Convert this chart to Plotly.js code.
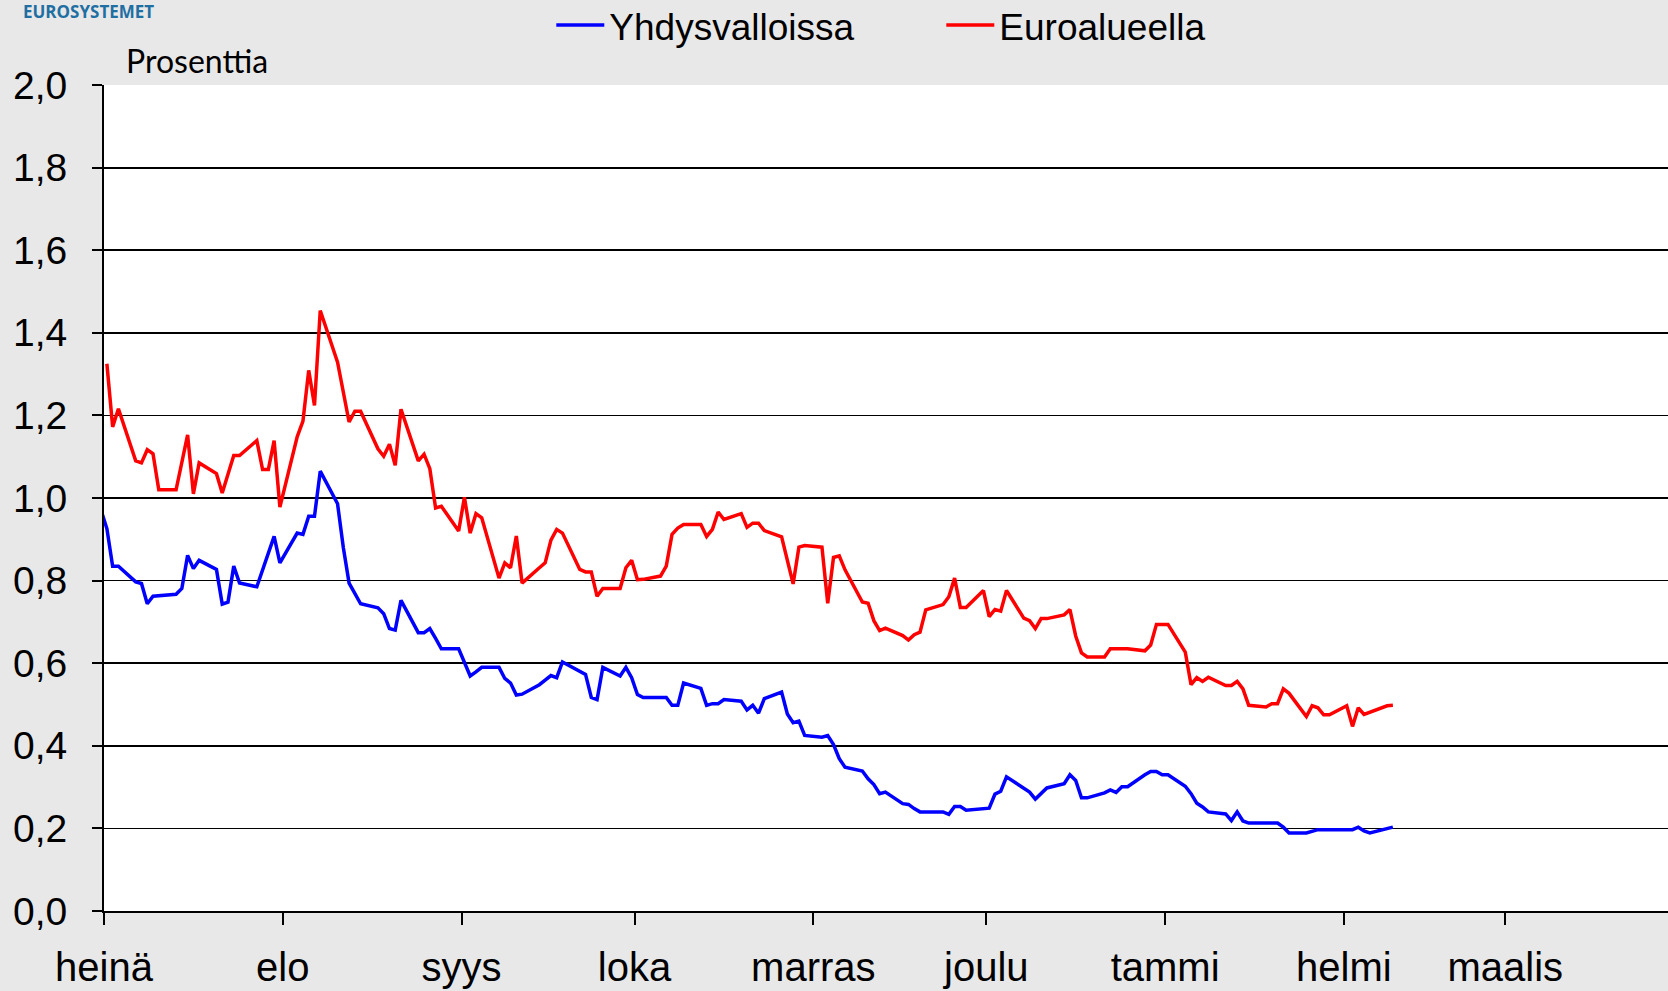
<!DOCTYPE html>
<html>
<head>
<meta charset="utf-8">
<script src="https://cdn.plot.ly/plotly-3.0.1.min.js"></script>
<style>
  html, body { margin: 0; padding: 0; background: #e8e8e8; }
  #chart { width: 1668px; height: 991px; }
</style>
</head>
<body>
<div id="chart"></div>
<script>
// Month ticks (Finnish month names)
const monthTicks = ['2009-07-01', '2009-08-01', '2009-09-01', '2009-10-01', '2009-11-01',
                    '2009-12-01', '2010-01-01', '2010-02-01', '2010-03-01'];
const monthLabels = ['heinä', 'elo', 'syys', 'loka', 'marras', 'joulu', 'tammi', 'helmi', 'maalis'];

// Yhdysvalloissa (blue)
const usDates = [
  '2009-06-30', '2009-07-01', '2009-07-02', '2009-07-03', '2009-07-06', '2009-07-07', '2009-07-08', '2009-07-09',
  '2009-07-13', '2009-07-14', '2009-07-15', '2009-07-16', '2009-07-17', '2009-07-20', '2009-07-21', '2009-07-22',
  '2009-07-23', '2009-07-24', '2009-07-27', '2009-07-30', '2009-07-31', '2009-08-03', '2009-08-04', '2009-08-05',
  '2009-08-06', '2009-08-07', '2009-08-10', '2009-08-11', '2009-08-12', '2009-08-13', '2009-08-14', '2009-08-17',
  '2009-08-18', '2009-08-19', '2009-08-20', '2009-08-21', '2009-08-24', '2009-08-25', '2009-08-26', '2009-08-27',
  '2009-08-28', '2009-08-31', '2009-09-01', '2009-09-02', '2009-09-03', '2009-09-04', '2009-09-07', '2009-09-08',
  '2009-09-09', '2009-09-10', '2009-09-11', '2009-09-14', '2009-09-15', '2009-09-16', '2009-09-17', '2009-09-18',
  '2009-09-22', '2009-09-23', '2009-09-24', '2009-09-25', '2009-09-28', '2009-09-29', '2009-09-30', '2009-10-01',
  '2009-10-02', '2009-10-06', '2009-10-07', '2009-10-08', '2009-10-09', '2009-10-12', '2009-10-13', '2009-10-14',
  '2009-10-15', '2009-10-16', '2009-10-19', '2009-10-20', '2009-10-21', '2009-10-22', '2009-10-23', '2009-10-26',
  '2009-10-27', '2009-10-28', '2009-10-29', '2009-10-30', '2009-11-02', '2009-11-03', '2009-11-04', '2009-11-05',
  '2009-11-06', '2009-11-09', '2009-11-10', '2009-11-11', '2009-11-12', '2009-11-13', '2009-11-16', '2009-11-17',
  '2009-11-18', '2009-11-19', '2009-11-23', '2009-11-24', '2009-11-25', '2009-11-26', '2009-11-27', '2009-11-30',
  '2009-12-01', '2009-12-02', '2009-12-03', '2009-12-04', '2009-12-07', '2009-12-08', '2009-12-09', '2009-12-10',
  '2009-12-11', '2009-12-14', '2009-12-15', '2009-12-16', '2009-12-17', '2009-12-18', '2009-12-21', '2009-12-22',
  '2009-12-23', '2009-12-24', '2009-12-25', '2009-12-28', '2009-12-29', '2009-12-30', '2009-12-31', '2010-01-01',
  '2010-01-04', '2010-01-05', '2010-01-06', '2010-01-07', '2010-01-08', '2010-01-11', '2010-01-12', '2010-01-13',
  '2010-01-14', '2010-01-15', '2010-01-20', '2010-01-21', '2010-01-22', '2010-01-25', '2010-01-27', '2010-02-02',
  '2010-02-03', '2010-02-04', '2010-02-05', '2010-02-09'
];
const usValues = [
  0.970, 0.926, 0.835, 0.835, 0.797, 0.793, 0.744, 0.762,
  0.767, 0.781, 0.861, 0.829, 0.849, 0.827, 0.743, 0.748,
  0.835, 0.794, 0.785, 0.907, 0.843, 0.915, 0.912, 0.956,
  0.956, 1.065, 0.986, 0.880, 0.794, 0.770, 0.744, 0.734,
  0.720, 0.684, 0.680, 0.752, 0.674, 0.674, 0.684, 0.660,
  0.635, 0.635, 0.603, 0.569, 0.579, 0.590, 0.590, 0.563,
  0.552, 0.523, 0.525, 0.548, 0.559, 0.570, 0.565, 0.603,
  0.573, 0.517, 0.512, 0.590, 0.569, 0.590, 0.565, 0.524,
  0.517, 0.517, 0.498, 0.498, 0.552, 0.539, 0.498, 0.502,
  0.502, 0.512, 0.508, 0.487, 0.498, 0.479, 0.514, 0.530,
  0.477, 0.456, 0.460, 0.425, 0.421, 0.425, 0.403, 0.369,
  0.348, 0.339, 0.320, 0.306, 0.284, 0.288, 0.260, 0.258,
  0.248, 0.240, 0.240, 0.234, 0.253, 0.253, 0.244, 0.247,
  0.249, 0.283, 0.290, 0.325, 0.296, 0.288, 0.271, 0.284,
  0.298, 0.308, 0.330, 0.316, 0.274, 0.274, 0.286, 0.293,
  0.287, 0.301, 0.301, 0.330, 0.338, 0.338, 0.330, 0.330,
  0.302, 0.284, 0.261, 0.252, 0.240, 0.235, 0.219, 0.240,
  0.218, 0.213, 0.213, 0.203, 0.189, 0.189, 0.197, 0.197,
  0.203, 0.194, 0.189, 0.203
];

// Euroalueella (red)
const euDates = [
  '2009-07-01', '2009-07-02', '2009-07-03', '2009-07-06', '2009-07-07', '2009-07-08', '2009-07-09', '2009-07-10',
  '2009-07-13', '2009-07-15', '2009-07-16', '2009-07-17', '2009-07-20', '2009-07-21', '2009-07-23', '2009-07-24',
  '2009-07-27', '2009-07-28', '2009-07-29', '2009-07-30', '2009-07-31', '2009-08-03', '2009-08-04', '2009-08-05',
  '2009-08-06', '2009-08-07', '2009-08-10', '2009-08-12', '2009-08-13', '2009-08-14', '2009-08-17', '2009-08-18',
  '2009-08-19', '2009-08-20', '2009-08-21', '2009-08-24', '2009-08-25', '2009-08-26', '2009-08-27', '2009-08-28',
  '2009-08-31', '2009-09-01', '2009-09-02', '2009-09-03', '2009-09-04', '2009-09-07', '2009-09-08', '2009-09-09',
  '2009-09-10', '2009-09-11', '2009-09-14', '2009-09-15', '2009-09-16', '2009-09-17', '2009-09-18', '2009-09-21',
  '2009-09-22', '2009-09-23', '2009-09-24', '2009-09-25', '2009-09-28', '2009-09-29', '2009-09-30', '2009-10-01',
  '2009-10-02', '2009-10-05', '2009-10-06', '2009-10-07', '2009-10-08', '2009-10-09', '2009-10-12', '2009-10-13',
  '2009-10-14', '2009-10-15', '2009-10-16', '2009-10-19', '2009-10-20', '2009-10-21', '2009-10-22', '2009-10-23',
  '2009-10-26', '2009-10-28', '2009-10-29', '2009-10-30', '2009-11-02', '2009-11-03', '2009-11-04', '2009-11-05',
  '2009-11-06', '2009-11-09', '2009-11-10', '2009-11-11', '2009-11-12', '2009-11-13', '2009-11-16', '2009-11-17',
  '2009-11-18', '2009-11-19', '2009-11-20', '2009-11-23', '2009-11-24', '2009-11-25', '2009-11-26', '2009-11-27',
  '2009-11-30', '2009-12-01', '2009-12-02', '2009-12-03', '2009-12-04', '2009-12-07', '2009-12-08', '2009-12-09',
  '2009-12-10', '2009-12-11', '2009-12-14', '2009-12-15', '2009-12-16', '2009-12-17', '2009-12-18', '2009-12-21',
  '2009-12-22', '2009-12-25', '2009-12-28', '2009-12-29', '2009-12-30', '2010-01-01', '2010-01-04', '2010-01-05',
  '2010-01-06', '2010-01-07', '2010-01-08', '2010-01-11', '2010-01-12', '2010-01-13', '2010-01-14', '2010-01-15',
  '2010-01-18', '2010-01-19', '2010-01-20', '2010-01-21', '2010-01-22', '2010-01-25', '2010-01-26', '2010-01-27',
  '2010-01-28', '2010-01-29', '2010-02-01', '2010-02-02', '2010-02-03', '2010-02-04', '2010-02-08', '2010-02-09'
];
const euValues = [
  1.325, 1.172, 1.216, 1.090, 1.085, 1.117, 1.107, 1.020,
  1.020, 1.153, 1.010, 1.085, 1.059, 1.012, 1.103, 1.103,
  1.139, 1.069, 1.069, 1.139, 0.978, 1.148, 1.186, 1.309,
  1.224, 1.454, 1.329, 1.184, 1.210, 1.210, 1.119, 1.101,
  1.130, 1.079, 1.215, 1.090, 1.106, 1.071, 0.976, 0.980,
  0.920, 1.002, 0.915, 0.962, 0.952, 0.806, 0.843, 0.831,
  0.908, 0.794, 0.831, 0.843, 0.898, 0.924, 0.915, 0.827,
  0.821, 0.821, 0.762, 0.781, 0.781, 0.831, 0.849, 0.802,
  0.803, 0.811, 0.835, 0.912, 0.927, 0.936, 0.936, 0.907,
  0.924, 0.966, 0.948, 0.962, 0.929, 0.939, 0.939, 0.921,
  0.906, 0.792, 0.881, 0.885, 0.881, 0.745, 0.856, 0.860,
  0.826, 0.748, 0.745, 0.703, 0.679, 0.685, 0.667, 0.656,
  0.669, 0.675, 0.729, 0.742, 0.761, 0.806, 0.735, 0.735,
  0.776, 0.713, 0.730, 0.726, 0.776, 0.709, 0.703, 0.684,
  0.708, 0.708, 0.717, 0.730, 0.666, 0.625, 0.615, 0.615,
  0.635, 0.635, 0.630, 0.644, 0.694, 0.694, 0.627, 0.548,
  0.565, 0.556, 0.566, 0.546, 0.546, 0.556, 0.538, 0.498,
  0.494, 0.502, 0.502, 0.538, 0.527, 0.471, 0.497, 0.492,
  0.475, 0.475, 0.497, 0.447, 0.492, 0.476, 0.497, 0.498
];

const FONT = 'Liberation Sans, Arial, sans-serif';

// Points sit in the middle of each day, as in the original
const midday = d => d + ' 12:00';

const traces = [
  {
    x: usDates.map(midday), y: usValues,
    type: 'scatter', mode: 'lines', name: 'Yhdysvalloissa',
    line: { color: '#0000ff', width: 3.5 }
  },
  {
    x: euDates.map(midday), y: euValues,
    type: 'scatter', mode: 'lines', name: 'Euroalueella',
    line: { color: '#ff0000', width: 3.5 }
  }
];

const layout = {
  width: 1668,
  height: 991,
  paper_bgcolor: '#e8e8e8',
  plot_bgcolor: '#ffffff',
  margin: { l: 104, r: 0, t: 85, b: 80, autoexpand: false },
  separators: ', ',
  showlegend: true,
  hovermode: false,
  font: { family: FONT, color: '#000000', size: 38 },
  legend: {
    orientation: 'h',
    x: 0.286, xanchor: 'left',
    y: 1.072, yanchor: 'middle',
    bgcolor: 'rgba(0,0,0,0)',
    font: { family: FONT, size: 37, color: '#000000' },
    itemwidth: 48,
    entrywidth: 327,
    entrywidthmode: 'pixels'
  },
  xaxis: {
    type: 'date',
    range: ['2009-07-01', '2010-03-29 05:00'],
    tickvals: monthTicks,
    ticktext: monthLabels,
    ticks: 'outside',
    ticklen: 12,
    tickwidth: 2,
    tickcolor: '#000000',
    showgrid: false,
    showline: true,
    linecolor: '#000000',
    linewidth: 2,
    zeroline: false,
    ticklabelstandoff: 8,
    tickfont: { family: FONT, size: 40, color: '#000000' }
  },
  yaxis: {
    range: [0, 2],
    tickvals: [0, 0.2, 0.4, 0.6, 0.8, 1.0, 1.2, 1.4, 1.6, 1.8, 2.0],
    tickformat: '.1f',
    ticks: 'outside',
    ticklen: 10,
    tickwidth: 2,
    tickcolor: '#000000',
    showgrid: true,
    gridcolor: '#000000',
    gridwidth: 1.8,
    showline: true,
    linecolor: '#000000',
    linewidth: 2,
    zeroline: false,
    ticklabelstandoff: 17,
    tickfont: { family: FONT, size: 39, color: '#000000' }
  },
  annotations: [
    {
      text: 'Prosenttia',
      xref: 'paper', yref: 'paper',
      x: 0.0127, y: 1.030, xanchor: 'left', yanchor: 'middle',
      showarrow: false,
      font: { family: 'Lato, Noto Sans, sans-serif', size: 32, color: '#000000' }
    },
    {
      text: '<b>EUROSYSTEMET</b>',
      xref: 'paper', yref: 'paper',
      x: -0.0533, y: 1.089, xanchor: 'left', yanchor: 'middle',
      showarrow: false,
      font: { family: 'Open Sans, sans-serif', size: 17, color: '#1f6fa3' }
    }
  ]
};

Plotly.newPlot('chart', traces, layout, { displayModeBar: false, staticPlot: true });
</script>
</body>
</html>
